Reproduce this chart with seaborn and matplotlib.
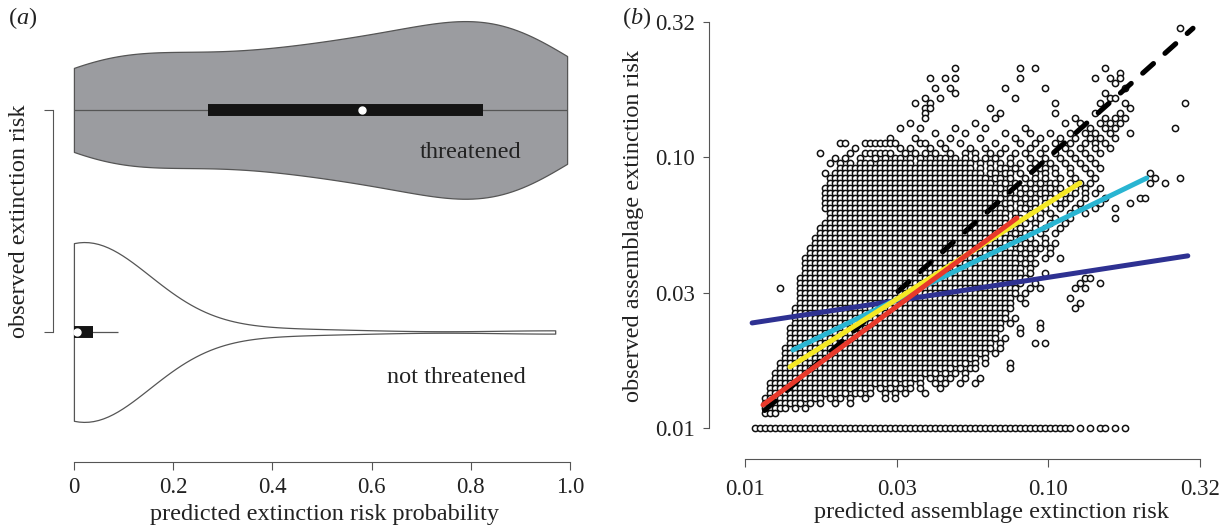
import numpy as np
import pandas as pd
import matplotlib
matplotlib.use("Agg")
import matplotlib.pyplot as plt
from matplotlib.cbook import boxplot_stats
from matplotlib.ticker import NullLocator, FixedLocator, FixedFormatter
import seaborn as sns

# ------------------------------------------------------------------
# Panel (a): predicted extinction-risk probability by observed status
# ------------------------------------------------------------------
status_order = ["threatened", "not threatened"]
threatened_prob = [0.000, 0.012, 0.028, 0.048, 0.072, 0.100, 0.135, 0.175, 0.215, 0.252,
                   0.275, 0.320, 0.360, 0.395, 0.425, 0.455, 0.485, 0.515, 0.545, 0.568,
                   0.594, 0.622, 0.650, 0.676, 0.700, 0.724, 0.746, 0.770, 0.795, 0.822,
                   0.834, 0.846, 0.860, 0.874, 0.889, 0.905, 0.922, 0.942, 0.965, 0.994]
not_threatened_prob = [0.0] * 16 + [
    0.001, 0.001, 0.002, 0.002, 0.003, 0.003, 0.004, 0.004, 0.004, 0.005, 0.005, 0.005, 0.006, 0.006,
    0.007, 0.009, 0.011, 0.013, 0.015, 0.017, 0.019, 0.021, 0.024, 0.027, 0.030, 0.033, 0.035, 0.036, 0.037,
    0.040, 0.045, 0.050, 0.056, 0.062, 0.068, 0.074, 0.080, 0.085, 0.089,
    0.15, 0.24, 0.36, 0.52, 0.97]
prob_ticks = [0, 0.2, 0.4, 0.6, 0.8, 1.0]
prob_tick_labels = ["0", "0.2", "0.4", "0.6", "0.8", "1.0"]

# ------------------------------------------------------------------
# Panel (b): observed vs predicted assemblage extinction risk
# ------------------------------------------------------------------
risk_ticks = [0.01, 0.0316, 0.1, 0.316]
risk_tick_labels = ["0.01", "0.03", "0.10", "0.32"]

# points on a fine log grid ('o' = assemblage), top row first
grid_origin = 0.01
pred_log_step = 0.01648
obs_log_step = 0.01848
scatter_rows = [
    "..........|..........|..........|..........|..........|..........|..........|..........|.......o",
    "", "", "", "", "", "", "",
    "..........|..........|..........|..........|..o.......|.....o..o.|..........|..o",
    "..........|..........|..........|..........|..........|..........|..........|.....o",
    "..........|..........|..........|.......o..|o.o.......|.....o....|..........|o..o.o",
    "..........|..........|..........|..........|..........|..........|..........|....o",
    "..........|..........|..........|........o.|.o........|..o.......|o.........|......o",
    "..........|..........|..........|..........|..o.......|..........|..........|..o",
    "..........|..........|..........|......o..o|..........|....o.....|..........|...oo",
    "..........|..........|..........|....o..o..|..........|..........|..o.......|.o....o...|........o",
    "..........|..........|..........|......oo..|.........o|..........|..........|.......o",
    "..........|..........|..........|......o...|..........|.o........|..o.......|o....o",
    "..........|..........|..........|......o...|..........|o.........|......o...|..o.o.o",
    "..........|..........|..........|...o......|......o...|..........|....o..o..|.o.o.o",
    "..........|..........|..........|.o...o....|..o.....o.|......o...|.........o|..o.o.....|......o",
    "..........|..........|..........|........o.|....o.....|..o....o..|.o...o..o.|o..o...o",
    "..........|..........|.........o|....o.....|.o.....o..|....o....o|...o..o..o|.o..o",
    "..........|.........o|o...oooooo|o....oo..o|...o......|o....o..o.|..o..o..o.|o.o",
    "..........|..........|..o.......|.o.o...o..|o....o..o.|..o....o..|o...o..o..|o..o",
    "..........|.....o....|.o..oooooo|..o.o.o.o.|.o..o.o..o|.o..o.o..o|..o..o..o.|.o",
    "..........|........o.|o..o..o.o.|oo.o.o.o.o|o.o.o.o.o.|o..o...o..|o..o..o..o",
    "..........|.......o.o|.o.ooo.ooo|oooo.ooooo|oooooo.o.o|.o.o.o..o.|.o..o..o..|o",
    "..........|.........o|oooooooooo|oooooooooo|oooooo.o.o|.oo.o..o.o|o.o..o..o.|.o",
    "..........|......o.oo|oooooooooo|oooooooooo|oooooooo.o|o.oo.o..o.|o.o..o...o|..........|.o",
    "..........|.......ooo|oooooooooo|oooooooooo|ooooooooo.|oo.o..o.o.|o..o..o...|o.........|..o....o",
    "..........|.......ooo|oooooooooo|oooooooooo|oooooooooo|.oo.o..o.o|.oo..o.o.o|..........|.o..o",
    "..........|......oooo|oooooooooo|oooooooooo|oooooooooo|oo.o.oo.o.|oo.o..o.o.|.o",
    "..........|......oooo|oooooooooo|oooooooooo|oooooooooo|o.oo.o.o.o|o.o.o.o.o.|o",
    "..........|......oooo|oooooooooo|oooooooooo|oooooooooo|oo.oo.o.o.|oo.o.o..o.|..o......o|o",
    "..........|......oooo|oooooooooo|oooooooooo|oooooooooo|o.oo.o.oo.|o.o.o..o..|.o.....o",
    "..........|......oooo|oooooooooo|oooooooooo|oooooooooo|oo.o.oo.o.|o..o..o...|o...o",
    "..........|.......ooo|oooooooooo|oooooooooo|oooooooooo|ooo.o..o.o|.o...o..o.",
    "..........|.......ooo|oooooooooo|oooooooooo|oooooooooo|ooo.oo.o.o|..o..o....|....o",
    "..........|......oooo|oooooooooo|oooooooooo|oooooooooo|ooo.o.o.o.|.o..o",
    "..........|.....ooooo|oooooooooo|oooooooooo|oooooooooo|oooo.o..o.|o..o",
    "..........|.....ooooo|oooooooooo|oooooooooo|oooooooooo|ooo.o.oo.o|..o",
    "..........|....oooooo|oooooooooo|oooooooooo|oooooooooo|oooo.o.o..|o",
    "..........|....oooooo|oooooooooo|oooooooooo|oooooooooo|ooooo.o.o.|o.o",
    "..........|...ooooooo|oooooooooo|oooooooooo|oooooooooo|oooo.o.o.o|.o",
    "..........|...ooooooo|oooooooooo|oooooooooo|oooooooooo|ooooo.o.o.|.o",
    "..........|..oooooooo|oooooooooo|oooooooooo|oooooooooo|oooooo.o..|o..o",
    "..........|..oooooooo|oooooooooo|oooooooooo|oooooooooo|ooooo.o.o.",
    "..........|..oooooooo|oooooooooo|oooooooooo|oooooooooo|oooooo.o..",
    "..........|..oooooooo|oooooooooo|oooooooooo|oooooooooo|oooooo.o..|o",
    "..........|.ooooooooo|oooooooooo|oooooooooo|oooooooooo|ooooooo...|........oo",
    "..........|.ooooooooo|oooooooooo|oooooooooo|oooooooooo|oooooo..o.|.......o..|.o",
    ".......o..|.ooooooooo|oooooooooo|oooooooooo|oooooooooo|ooooo..o.o|......o.o",
    "..........|.ooooooooo|oooooooooo|oooooooooo|oooooooooo|ooooo.o...",
    "..........|.ooooooooo|oooooooooo|oooooooooo|oooooooooo|oooo.o....|.....o",
    "..........|.ooooooooo|oooooooooo|oooooooooo|oooooooooo|oooo..o...|.......o",
    "..........|oooooooooo|oooooooooo|oooooooooo|oooooooooo|oooo......|......o",
    "..........|oooooooooo|oooooooooo|oooooooooo|oooooooooo|ooo",
    "..........|oooooooooo|oooooooooo|oooooooooo|oooooooooo|ooo.o",
    "..........|oooooooooo|oooooooooo|oooooooooo|oooooooooo|oo.o.....o",
    ".........o|oooooooooo|oooooooooo|oooooooooo|oooooooooo|oo...o...o",
    ".........o|oooooooooo|oooooooooo|oooooooooo|oooooooooo|o....o",
    ".........o|oooooooooo|oooooooooo|oooooooooo|oooooooooo|o.o",
    ".........o|oooooooooo|oooooooooo|oooooooooo|oooooooooo|.o......o.|o",
    "........oo|oooooooooo|oooooooooo|oooooooooo|oooooooooo|.o",
    "........oo|oooooooooo|oooooooooo|oooooooooo|ooooooooo.|o",
    "........oo|oooooooooo|oooooooooo|oooooooooo|ooooooo.o.",
    ".......ooo|oooooooooo|oooooooooo|oooooooooo|ooooo.o.o.|...o",
    ".......ooo|oooooooooo|oooooooooo|oooooooooo|oo.o.oo...|...o",
    "......oooo|oooooooooo|oooooooooo|ooooooooo.|o.o.o",
    "......oooo|oooooooooo|oooooooooo|oooooo.o.o|.o..o..o",
    ".....ooooo|oooooooooo|oooooooooo|o.oo.o..o.|o..o..o",
    ".....ooooo|oooooooooo|oooooo.o.o|.o.o.o...o",
    ".....ooooo|oooooooooo|o.oo.o..o.|o.o...o",
    "....oooooo|oooooo.o.o|.o..o...o.|o",
    "....oooooo|oo.o.o..o.|.o",
    "....ooooo.|o.o",
    "....ooo",
    "",
    "",
    "..oooooooo|oooooooooo|oooooooooo|oooooooooo|oooooooooo|oooooooooo|oooooo.o.o|.oo.o.o",
]

# fitted relationships (end points)
line_1to1_x = [0.0116, 0.300]
line_1to1_y = [0.0116, 0.300]
line_navy_x = [0.01055, 0.2884]
line_navy_y = [0.02443, 0.04325]
line_cyan_x = [0.01439, 0.2113]
line_cyan_y = [0.01941, 0.0839]
line_yellow_x = [0.01406, 0.1271]
line_yellow_y = [0.0168, 0.0804]
line_red_x = [0.01146, 0.0788]
line_red_y = [0.01216, 0.0597]

# ------------------------------------------------------------------
sns.set_theme(style="ticks")
plt.rcParams["font.family"] = ["Liberation Serif", "DejaVu Serif"]
plt.rcParams["mathtext.fontset"] = "custom"
plt.rcParams["mathtext.rm"] = "Liberation Serif"
plt.rcParams["mathtext.it"] = "Liberation Serif:italic"
TXT = "#222222"
AX = "#555555"
FS = 17.5      # labels / annotations
TFS = 16.5     # tick labels

W, H = 1232, 527
fig = plt.figure(figsize=(W / 100, H / 100), dpi=100)
ax_a = fig.add_axes([64 / W, (H - 443) / H, 516 / W, 433 / H])
ax_b = fig.add_axes([739 / W, (H - 436) / H, 467 / W, 422 / H])

# ---------------- panel (a) ----------------
df_a = pd.DataFrame({
    "prob": threatened_prob + not_threatened_prob,
    "status": ["threatened"] * len(threatened_prob) + ["not threatened"] * len(not_threatened_prob),
})
violin_fill = {"threatened": "#9b9ca0", "not threatened": "#ffffff"}
violin_bw = {"threatened": 0.14, "not threatened": 0.13}
violin_width = {"threatened": 0.80, "not threatened": 0.81}
for grp in status_order:
    sub = df_a[df_a["status"] == grp]
    sns.violinplot(data=sub, x="prob", y="status", order=status_order, orient="y",
                   cut=0, inner=None, density_norm="width", width=violin_width[grp],
                   bw_method=violin_bw[grp] / sub["prob"].std(), color=violin_fill[grp],
                   saturation=1, linecolor=AX, linewidth=0.9, ax=ax_a)

for pos, grp in enumerate(status_order):
    vals = df_a.loc[df_a["status"] == grp, "prob"].to_numpy()
    st = boxplot_stats(vals, whis=1.5)[0]
    ax_a.plot([st["whislo"], st["whishi"]], [pos, pos], color=AX, lw=0.9,
              solid_capstyle="butt", zorder=3)
    ax_a.plot([st["q1"], st["q3"]], [pos, pos], color="#141414", lw=8.6,
              solid_capstyle="butt", zorder=4)
    ax_a.plot([st["med"]], [pos], marker="o", ms=5, mfc="white", mec="white", zorder=5)

ax_a.set_xlim(-0.02, 1.02)
ax_a.set_ylim(1.5, -0.45)
for s in ["top", "right"]:
    ax_a.spines[s].set_visible(False)
ax_a.spines["bottom"].set_position(("outward", 13.7))
ax_a.spines["left"].set_position(("outward", 7.9))
ax_a.spines["bottom"].set_bounds(0, 1)
ax_a.spines["left"].set_bounds(0, 1)
for s in ["bottom", "left"]:
    ax_a.spines[s].set_color(AX)
    ax_a.spines[s].set_linewidth(0.8)
ax_a.set_xticks(prob_ticks)
ax_a.set_xticklabels(prob_tick_labels)
ax_a.set_yticks([0, 1])
ax_a.set_yticklabels([])
ax_a.tick_params(axis="x", direction="out", length=5.6, width=0.8, color=AX,
                 labelsize=TFS, labelcolor=TXT, pad=5.0)
ax_a.tick_params(axis="y", direction="out", length=6.5, width=0.8, color=AX)
ax_a.set_xlabel("predicted extinction risk probability", fontsize=FS, color=TXT)
ax_a.set_ylabel("observed extinction risk", fontsize=FS, color=TXT)
ax_a.xaxis.set_label_coords((324 - 64) / 516, (443 - 504) / 433)
ax_a.yaxis.set_label_coords((30 - 64) / 516, (443 - 221) / 433)
ax_a.text(0.80, 0.19, "threatened", ha="center", va="center", fontsize=FS, color=TXT)
ax_a.text(0.77, 1.207, "not threatened", ha="center", va="center", fontsize=FS, color=TXT)

# ---------------- panel (b) ----------------
ax_b.set_xscale("log")
ax_b.set_yscale("log")

rows = [r.replace("|", "") for r in scatter_rows]
top_level = len(rows) - 1
pred_vals, obs_vals = [], []
for i, row in enumerate(rows):
    level = top_level - i
    for col, ch in enumerate(row):
        if ch == "o":
            pred_vals.append(grid_origin * 10 ** (col * pred_log_step))
            obs_vals.append(grid_origin * 10 ** (level * obs_log_step))
df_b = pd.DataFrame({"pred": pred_vals, "obs": obs_vals})
sns.scatterplot(data=df_b, x="pred", y="obs", s=20, color="white", edgecolor="#111111",
                linewidth=1.1, legend=False, ax=ax_b, zorder=2)

sns.lineplot(x=line_1to1_x, y=line_1to1_y, color="black", linewidth=3.7,
             dash_capstyle="round", ax=ax_b, zorder=3)
ax_b.lines[-1].set_dashes([2.8, 3.0])
for xs, ys, col in [(line_navy_x, line_navy_y, "#2e3192"),
                    (line_cyan_x, line_cyan_y, "#29b5d2"),
                    (line_yellow_x, line_yellow_y, "#f5e825"),
                    (line_red_x, line_red_y, "#e8392b")]:
    sns.lineplot(x=xs, y=ys, color=col, linewidth=3.6, solid_capstyle="round",
                 ax=ax_b, zorder=4)

ax_b.set_xlim(10 ** -2.02, 10 ** -0.48)
ax_b.set_ylim(10 ** -2.03, 10 ** -0.47)
for s in ["top", "right"]:
    ax_b.spines[s].set_visible(False)
ax_b.spines["bottom"].set_position(("outward", 16.6))
ax_b.spines["left"].set_position(("outward", 21.6))
ax_b.spines["bottom"].set_bounds(risk_ticks[0], risk_ticks[-1])
ax_b.spines["left"].set_bounds(risk_ticks[0], risk_ticks[-1])
for s in ["bottom", "left"]:
    ax_b.spines[s].set_color(AX)
    ax_b.spines[s].set_linewidth(0.8)
for axis in (ax_b.xaxis, ax_b.yaxis):
    axis.set_major_locator(FixedLocator(risk_ticks))
    axis.set_major_formatter(FixedFormatter(risk_tick_labels))
    axis.set_minor_locator(NullLocator())
ax_b.tick_params(axis="x", direction="out", length=5.7, width=0.8, color=AX,
                 labelsize=TFS, labelcolor=TXT, pad=8.5)
ax_b.tick_params(axis="y", direction="out", length=4.3, width=0.8, color=AX,
                 labelsize=TFS, labelcolor=TXT, pad=5.8)
ax_b.set_xlabel("predicted assemblage extinction risk", fontsize=FS, color=TXT)
ax_b.set_ylabel("observed assemblage extinction risk", fontsize=FS, color=TXT)
ax_b.xaxis.set_label_coords((991 - 739) / 467, (436 - 502) / 422)
ax_b.yaxis.set_label_coords((644 - 739) / 467, (436 - 226) / 422)

fig.text(8 / W, 1 - 18 / H, r"($\it{a}$)", ha="left", va="center", fontsize=FS, color=TXT)
fig.text(622 / W, 1 - 18 / H, r"($\it{b}$)", ha="left", va="center", fontsize=FS, color=TXT)

fig.savefig("out.png", dpi=100)
